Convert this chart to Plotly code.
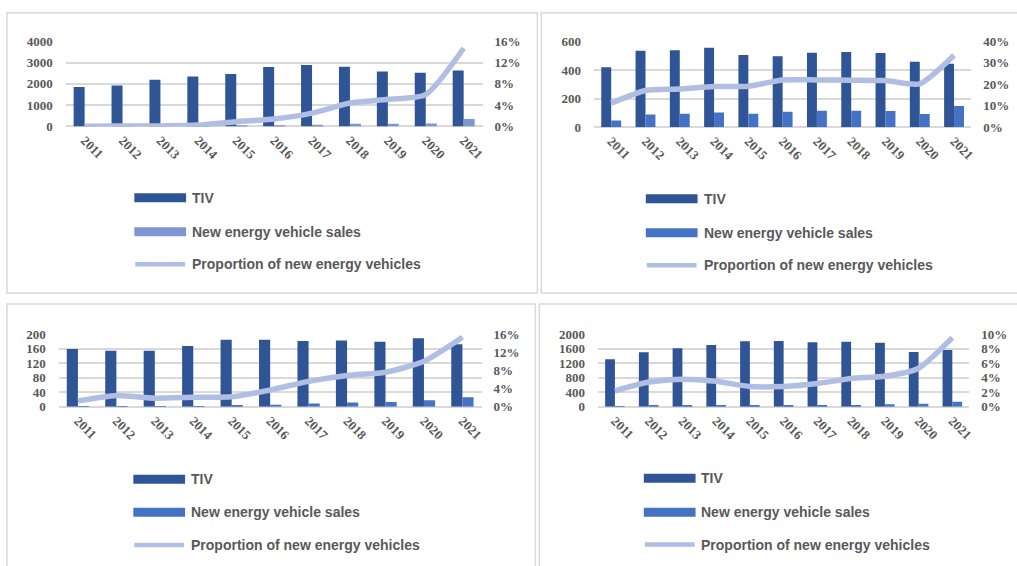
import plotly.graph_objects as go

W, H = 1017, 566

years = ["2011", "2012", "2013", "2014", "2015", "2016", "2017", "2018", "2019", "2020", "2021"]

# Panel A
tiv_a = [1850, 1930, 2200, 2350, 2460, 2800, 2890, 2810, 2580, 2530, 2630]
nev_a = [1, 1, 2, 8, 33, 51, 78, 126, 121, 137, 352]
share_a = [0.05, 0.07, 0.1, 0.25, 0.9, 1.4, 2.5, 4.4, 5.1, 6.0, 14.7]

# Panel B
tiv_b = [419, 535, 537, 556, 505, 495, 521, 526, 519, 458, 444]
nev_b = [47, 88, 93, 102, 93, 107, 114, 114, 112, 91, 147]
share_b = [11.2, 17.1, 17.8, 18.9, 19.1, 22.0, 22.0, 21.9, 21.7, 20.2, 33.5]

# Panel C
tiv_c = [159, 154, 154, 167, 184, 184, 181, 182, 179, 188, 172]
nev_c = [0.2, 0.4, 0.6, 1, 3, 6, 9, 12, 13, 18, 26]
share_c = [1.3, 2.5, 1.9, 2.1, 2.2, 3.7, 5.6, 6.9, 7.6, 10.0, 15.3]

# Panel D
tiv_d = [1306, 1498, 1607, 1699, 1799, 1808, 1772, 1790, 1763, 1507, 1562]
nev_d = [15, 40, 45, 45, 42, 42, 42, 50, 73, 82, 137]
share_d = [2.2, 3.4, 3.8, 3.5, 2.8, 2.8, 3.2, 3.9, 4.2, 5.3, 9.5]

legend_names = ["TIV", "New energy vehicle sales", "Proportion of new energy vehicles"]

TIV_COLOR = "#2F5597"
NEV_LIGHT = "#7F96D3"
NEV_COLOR = "#4472C4"
LINE_COLOR = "#B0BEE4"
GRID = "#D9D9D9"
TXT = "#595959"


def px(x):
    return x / W


def py(y):
    return 1 - y / H


tick_font = dict(family="Liberation Serif", size=13, color=TXT, weight="bold")
leg_font = dict(family="Liberation Sans", size=14, color=TXT, weight="bold")

# panel specs: data, axis ranges, plot-area pixel box, legend pixel anchor, border box
panels = [
    dict(tiv=tiv_a, nev=nev_a, share=share_a, nev_color=NEV_LIGHT,
         ymax=4000, dy=1000, rmax=16, rdt=4,
         box=(66, 485, 35.3, 122.7), leg=(135, 187, 191, [196.0, 230.9, 264.2]),
         border=(7, 540, 5.8, 293.9)),
    dict(tiv=tiv_b, nev=nev_b, share=share_b, nev_color=NEV_COLOR,
         ymax=600, dy=200, rmax=40, rdt=10,
         box=(597, 976, 35.3, 123.4), leg=(649, 701, 705, [197.0, 231.9, 265.2]),
         border=(544, 1025, 5.8, 293.9)),
    dict(tiv=tiv_c, nev=nev_c, share=share_c, nev_color=NEV_COLOR,
         ymax=200, dy=40, rmax=16, rdt=4,
         box=(59, 484, 335.9, 410.7), leg=(134, 186, 190, [485.1, 518.9, 552.7]),
         border=(7, 538, 305.2, 590)),
    dict(tiv=tiv_d, nev=nev_d, share=share_d, nev_color=NEV_COLOR,
         ymax=2000, dy=400, rmax=10, rdt=2,
         box=(601, 974, 335.9, 410.7), leg=(647, 699, 702, [484.1, 518.9, 552.2]),
         border=(542, 1025, 305.2, 590)),
]

fig = go.Figure()
layout = {}
shapes = []
annotations = []

for i, p in enumerate(panels):
    n = i + 1
    xa = "x" if n == 1 else f"x{n}"
    ya = "y" if n == 1 else f"y{2 * n - 1}"
    yb = f"y{2 * n}"
    xkey = "xaxis" if n == 1 else f"xaxis{n}"
    ykey = "yaxis" if n == 1 else f"yaxis{2 * n - 1}"
    ykey2 = f"yaxis{2 * n}"

    fig.add_trace(go.Bar(x=years, y=p["tiv"], xaxis=xa, yaxis=ya, name=legend_names[0],
                         marker=dict(color=TIV_COLOR, line=dict(width=0)), showlegend=False))
    fig.add_trace(go.Bar(x=years, y=p["nev"], xaxis=xa, yaxis=ya, name=legend_names[1],
                         marker=dict(color=p["nev_color"], line=dict(width=0)), showlegend=False))
    fig.add_trace(go.Scatter(x=years, y=p["share"], xaxis=xa, yaxis=yb, name=legend_names[2],
                             mode="lines", line=dict(color=LINE_COLOR, width=5.5, shape="spline",
                                                     smoothing=0.6),
                             cliponaxis=False, showlegend=False))

    x0, x1, ytop, ybot = p["box"]
    layout[xkey] = dict(domain=[px(x0), px(x1)], anchor=ya, type="category",
                        showgrid=False, zeroline=False, showline=False, ticks="",
                        tickangle=45, tickfont=tick_font, ticklabelstandoff=3,
                        fixedrange=True)
    layout[ykey] = dict(domain=[py(ybot), py(ytop)], anchor=xa, range=[0, p["ymax"]],
                        dtick=p["dy"], tick0=0, showgrid=True, gridcolor=GRID, gridwidth=2,
                        zeroline=True, zerolinecolor=GRID, zerolinewidth=2, showline=False,
                        ticks="", tickfont=tick_font, ticklabelstandoff=12, fixedrange=True)
    layout[ykey2] = dict(overlaying=ya, anchor=xa, side="right", range=[0, p["rmax"]],
                         dtick=p["rdt"], tick0=0, ticksuffix="%", showgrid=False,
                         zeroline=False, showline=False, ticks="", tickfont=tick_font,
                         ticklabelstandoff=11, fixedrange=True)

    # panel frame
    bx0, bx1, by0, by1 = p["border"]
    shapes.append(dict(type="rect", xref="paper", yref="paper", x0=px(bx0), x1=px(bx1),
                       y0=py(by1), y1=py(by0), line=dict(color=GRID, width=1.5),
                       fillcolor="rgba(0,0,0,0)", layer="below"))

    # legend block
    lx0, lx1, tx, ys = p["leg"]
    for k, (color, yc) in enumerate(zip([TIV_COLOR, p["nev_color"]], ys[:2])):
        shapes.append(dict(type="rect", xref="paper", yref="paper", x0=px(lx0), x1=px(lx1),
                           y0=py(yc + 4.6), y1=py(yc - 4.6), fillcolor=color,
                           line=dict(width=0)))
    shapes.append(dict(type="line", xref="paper", yref="paper", x0=px(lx0 + 1), x1=px(lx1 - 1),
                       y0=py(ys[2]), y1=py(ys[2]), line=dict(color=LINE_COLOR, width=4.5)))
    for name, yc in zip(legend_names, ys):
        annotations.append(dict(text=name, xref="paper", yref="paper", x=px(tx), y=py(yc),
                                xanchor="left", yanchor="middle", showarrow=False,
                                font=leg_font))

fig.update_layout(
    width=W, height=H,
    margin=dict(l=0, r=0, t=0, b=0),
    paper_bgcolor="white", plot_bgcolor="rgba(0,0,0,0)",
    barmode="group", bargap=0.42, bargroupgap=0,
    showlegend=False,
    shapes=shapes, annotations=annotations,
    **layout,
)

fig.write_html("out.html", config={"displayModeBar": False})
